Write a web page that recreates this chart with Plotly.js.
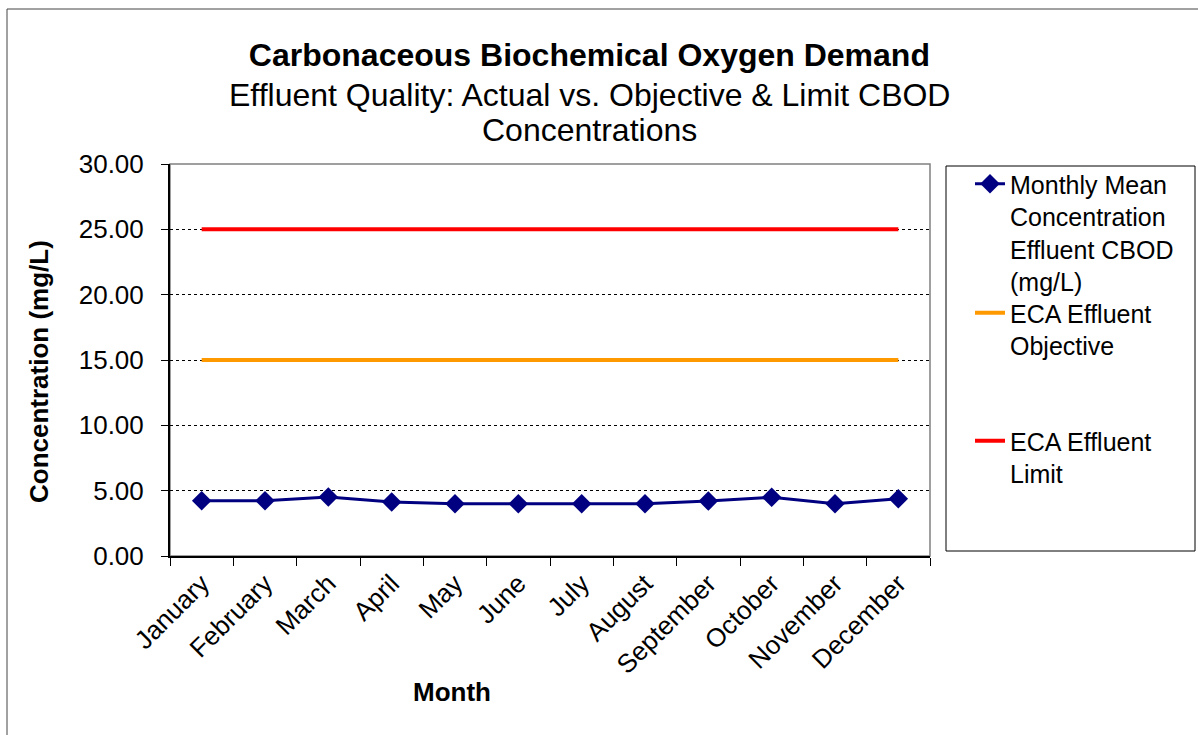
<!DOCTYPE html>
<html>
<head>
<meta charset="utf-8">
<script src="https://cdn.plot.ly/plotly-3.0.1.min.js"></script>
<style>
html,body{margin:0;padding:0;background:#fff;}
#chart{width:1198px;height:735px;}
</style>
</head>
<body>
<div id="chart"></div>
<script>
var months = ["January","February","March","April","May","June","July","August","September","October","November","December"];
var monthlyMean = [4.23, 4.23, 4.51, 4.13, 4.00, 4.00, 4.00, 4.00, 4.20, 4.49, 4.00, 4.38];
var objective = [15, 15, 15, 15, 15, 15, 15, 15, 15, 15, 15, 15];
var limit = [25, 25, 25, 25, 25, 25, 25, 25, 25, 25, 25, 25];
var yTicks = [0, 5, 10, 15, 20, 25, 30];

var FONT = "Liberation Sans, Arial, sans-serif";

var traces = [
  {x: months, y: monthlyMean, type: "scatter", mode: "lines+markers",
   name: "Monthly Mean<br>Concentration<br>Effluent CBOD<br>(mg/L)",
   line: {color: "#000080", width: 3},
   marker: {symbol: "diamond", size: 15, color: "#000080"},
   legend: "legend"},
  {x: months, y: objective, type: "scatter", mode: "lines",
   name: "ECA Effluent<br>Objective",
   line: {color: "#FF9900", width: 4}, legend: "legend2"},
  {x: months, y: limit, type: "scatter", mode: "lines",
   name: "ECA Effluent<br>Limit",
   line: {color: "#FF0000", width: 4}, legend: "legend3"}
];

var pl = 170, pr = 930, pt = 164, pb = 556;
function px2x(p){ return (p - pl) / (pr - pl); }
function py2y(p){ return (pb - p) / (pb - pt); }

var legBase = {
  xanchor: "left", yanchor: "top", bgcolor: "rgba(0,0,0,0)", borderwidth: 0,
  font: {family: FONT, size: 25, color: "#000"}, valign: "top",
  itemclick: false, itemdoubleclick: false, tracegroupgap: 0
};

var layout = {
  width: 1198, height: 735,
  paper_bgcolor: "#fff", plot_bgcolor: "#fff",
  margin: {l: pl, r: 1198 - pr, t: pt, b: 735 - pb},
  font: {family: FONT, size: 26, color: "#000"},
  title: {text: "<b>Carbonaceous Biochemical Oxygen Demand</b>",
          font: {family: FONT, size: 32, color: "#000"},
          x: 0.492, xanchor: "center", xref: "container",
          y: 1 - 55/735, yanchor: "middle", yref: "container"},
  annotations: [
    {text: "Effluent Quality: Actual vs. Objective & Limit CBOD", xref: "paper", yref: "paper",
     x: px2x(589), y: py2y(95), xanchor: "center", yanchor: "middle", showarrow: false,
     font: {family: FONT, size: 32, color: "#000"}},
    {text: "Concentrations", xref: "paper", yref: "paper",
     x: px2x(589), y: py2y(130), xanchor: "center", yanchor: "middle", showarrow: false,
     font: {family: FONT, size: 32, color: "#000"}},
    {text: "<b>Month</b>", xref: "paper", yref: "paper",
     x: px2x(452), y: py2y(692), xanchor: "center", yanchor: "middle", showarrow: false,
     font: {family: FONT, size: 26, color: "#000"}},
    {text: "<b>Concentration (mg/L)</b>", xref: "paper", yref: "paper", textangle: -90,
     x: px2x(39), y: py2y(372), xanchor: "center", yanchor: "middle", showarrow: false,
     font: {family: FONT, size: 26, color: "#000"}}
  ],
  xaxis: {
    type: "category", tickson: "boundaries", ticks: "outside", ticklen: 8, tickcolor: "#000",
    tickangle: -45, showline: true, linecolor: "#000", linewidth: 2, showgrid: false,
    tickfont: {family: FONT, size: 26, color: "#000"}, automargin: false,
    range: [-0.5, 11.5]
  },
  yaxis: {
    range: [0, 30], tickvals: yTicks, tickformat: ".2f", ticks: "outside", ticklen: 7, tickcolor: "#000",
    showline: true, linecolor: "#000", linewidth: 2, zeroline: false,
    showgrid: true, gridcolor: "#000", gridwidth: 1, griddash: "dot",
    ticklabelstandoff: 12, automargin: false,
    tickfont: {family: FONT, size: 26, color: "#000"}
  },
  shapes: [
    {type: "rect", xref: "paper", yref: "paper", x0: 0, x1: 1, y0: 0, y1: 1,
     line: {color: "#808080", width: 1.5}, layer: "below"},
    {type: "rect", xref: "paper", yref: "paper", x0: px2x(946), x1: px2x(1195), y0: py2y(551), y1: py2y(166),
     line: {color: "#000", width: 1}},
    {type: "rect", xref: "paper", yref: "paper", x0: px2x(7), x1: px2x(1210), y0: py2y(760), y1: py2y(9),
     line: {color: "#444", width: 1}}
  ],
  legend: Object.assign({}, legBase, {x: px2x(970), y: py2y(161)}),
  legend2: Object.assign({}, legBase, {x: px2x(970), y: py2y(290)}),
  legend3: Object.assign({}, legBase, {x: px2x(970), y: py2y(418)}),
  showlegend: true
};

Plotly.newPlot("chart", traces, layout, {displayModeBar: false, staticPlot: true});
</script>
</body>
</html>
